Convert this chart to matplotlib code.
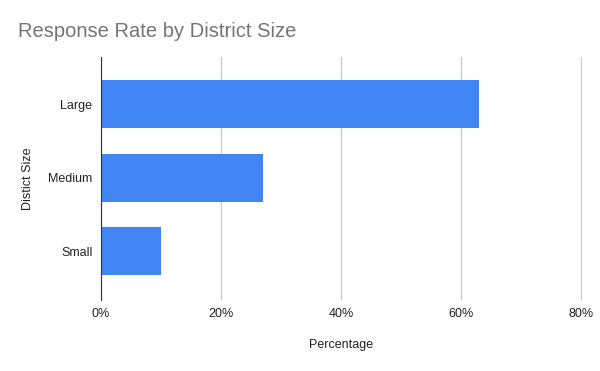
import matplotlib.pyplot as plt
from matplotlib.ticker import FuncFormatter

plt.rcParams['font.family'] = ['Liberation Sans', 'DejaVu Sans']

# Datos
categorias = ['Large', 'Medium', 'Small']
porcentajes = [63, 27, 10]
ticks_x = [0, 20, 40, 60, 80]

fig = plt.figure(figsize=(6, 3.71), dpi=100)
ax = fig.add_axes([0.168, 0.191, 0.802, 0.655])

y = range(len(categorias))
ax.barh(y, porcentajes, height=0.65, color='#4285F4', zorder=3)

ax.set_xlim(0, 80.1)
ax.set_ylim(2.667, -0.64)
ax.set_xticks(ticks_x)
ax.xaxis.set_major_formatter(FuncFormatter(lambda v, p: f'{v:.0f}%'))
ax.set_yticks(list(y))
ax.set_yticklabels(categorias)

ax.grid(axis='x', color='#cccccc', linewidth=1, zorder=0)
for s in ['top', 'right', 'bottom']:
    ax.spines[s].set_visible(False)
ax.spines['left'].set_color('#333333')
ax.spines['left'].set_zorder(4)
ax.tick_params(length=0, labelsize=9, labelcolor='#222222')
ax.tick_params(axis='x', pad=6)
ax.tick_params(axis='y', pad=6)

ax.set_xlabel('Percentage', fontsize=9, color='#222222', labelpad=13)
ax.set_ylabel('Distict Size', fontsize=9, color='#222222', labelpad=10)

fig.text(0.03, 0.915, 'Response Rate by District Size', fontsize=14.5,
         color='#757575', va='center', ha='left')

plt.savefig('out.png', dpi=100)
plt.close()
